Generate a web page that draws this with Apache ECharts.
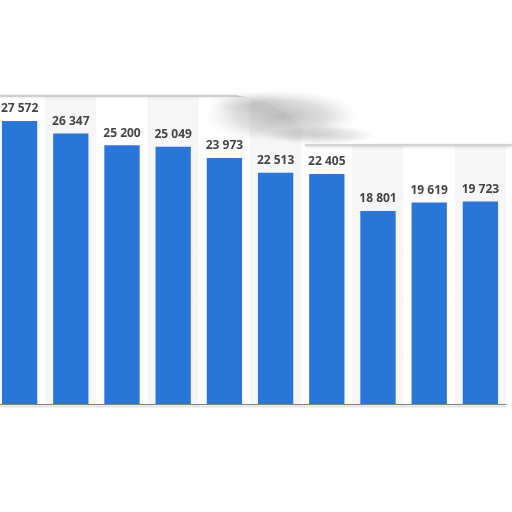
<!DOCTYPE html>
<html><head><meta charset="utf-8">
<script src="https://cdn.jsdelivr.net/npm/echarts@6/dist/echarts.min.js"></script>
<style>html,body{margin:0;padding:0;background:#fff;overflow:hidden}#c{position:absolute;left:-6px;top:0;width:518px;height:512px}</style>
</head><body><div id="c"></div>
<script>
const categories = ['1','2','3','4','5','6','7','8','9','10'];
const values = [27572, 26347, 25200, 25049, 23973, 22513, 22405, 18801, 19619, 19723];
const yTicks = [0, 5000, 10000, 15000, 20000, 25000, 30000];

const chart = echarts.init(document.getElementById('c'), null, {renderer:'canvas'});
const fmt = v => String(v).replace(/\B(?=(\d{3})+(?!\d))/g, ' ');
const S = 6; // container is shifted left by 6px
const blob = (a) => ({type:'radial', x:0.5, y:0.5, r:0.5, colorStops:[
  {offset:0, color:'rgba(125,125,125,'+a+')'}, {offset:0.6, color:'rgba(150,150,150,'+(a*0.6)+')'}, {offset:1, color:'rgba(190,190,190,0)'}]});
const pts = [[238,95],[262,100],[282,110],[298,122],[312,134],[325,141],[345,144],[512,144],[512,70],[238,70]].map(p=>[p[0]+S,p[1]]);
chart.setOption({
  animation:false,
  backgroundColor:'#ffffff',
  grid:{left:0, right:6, top:96, bottom:108, containLabel:false},
  xAxis:{type:'category', data:categories,
    axisLine:{show:true, lineStyle:{color:'#7f7f7f', width:1, shadowColor:'rgba(0,0,0,0.25)', shadowBlur:2, shadowOffsetY:2}},
    axisTick:{show:false}, axisLabel:{show:false},
    splitArea:{show:true, areaStyle:{color:['#ffffff','#f6f6f6']}}},
  yAxis:{type:'value', min:yTicks[0], max:yTicks[yTicks.length-1], interval:yTicks[1]-yTicks[0],
    axisLine:{show:false}, axisTick:{show:false}, axisLabel:{show:false},
    splitLine:{show:true, lineStyle:{color:'#d4d4d4', type:[2,2], width:1}}},
  series:[{type:'bar', data:values, barCategoryGap:'31%',
    itemStyle:{color:'#2a76d8'},
    label:{show:true, position:'top', distance:6, color:'#454545', fontWeight:'bold',
      fontFamily:'Open Sans, Arial, sans-serif', fontSize:12, formatter:p=>fmt(p.value)}}],
  graphic:[
    {type:'line', z:90, shape:{x1:0,y1:96,x2:250+S,y2:96}, style:{stroke:'#c4c4c4', lineWidth:1.5, shadowColor:'rgba(0,0,0,0.2)', shadowBlur:3}},
    {type:'polygon', z:100, shape:{points:pts}, style:{fill:'#ffffff', stroke:'#ffffff', lineWidth:1}},
    {type:'line', z:101, shape:{x1:305+S,y1:145,x2:518,y2:145}, style:{stroke:'#c8c8c8', lineWidth:1.5, shadowColor:'rgba(0,0,0,0.25)', shadowBlur:3, shadowOffsetY:1}},
    {type:'circle', z:102, x:282+S, y:116, scaleX:1.6, scaleY:0.55, shape:{cx:0, cy:0, r:48}, style:{fill:blob(0.5)}},
    {type:'circle', z:102, x:320+S, y:135, scaleX:1.8, scaleY:0.3, shape:{cx:0, cy:0, r:32}, style:{fill:blob(0.35)}},
    {type:'circle', z:102, x:252+S, y:104, scaleX:1.6, scaleY:0.45, shape:{cx:0, cy:0, r:28}, style:{fill:blob(0.25)}}
  ]
});
</script></body></html>
